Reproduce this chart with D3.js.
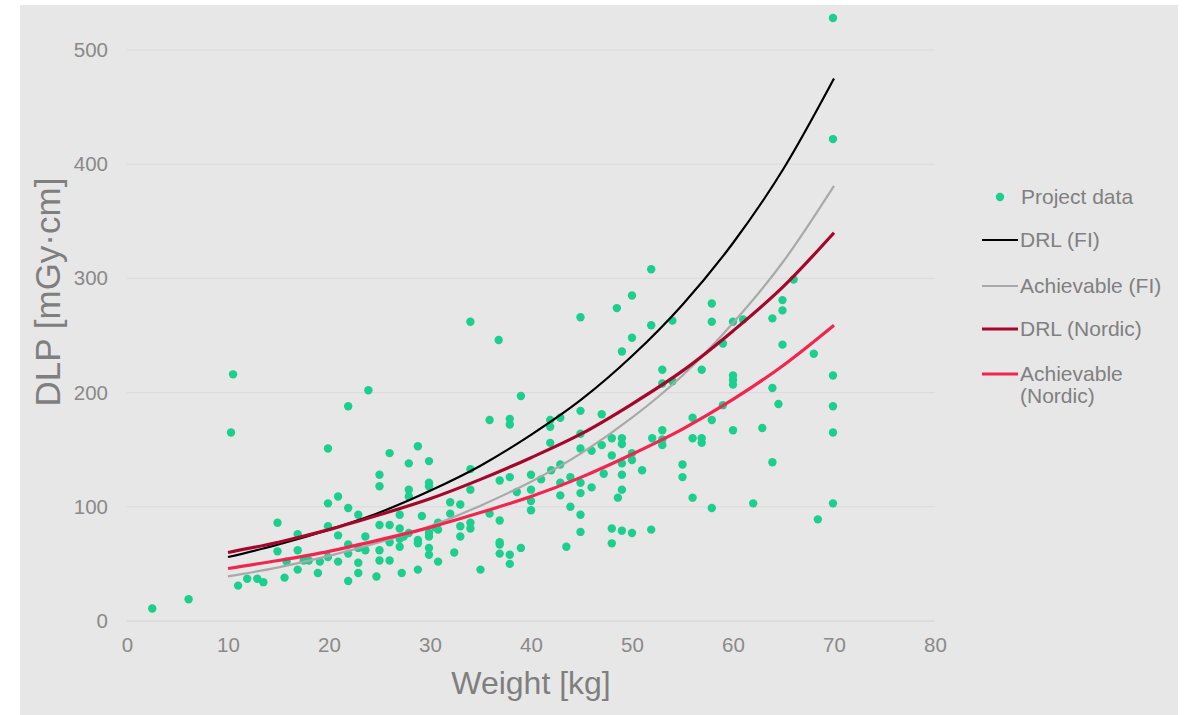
<!DOCTYPE html>
<html lang="en">
<head>
  <meta charset="UTF-8">
  <title>DLP vs weight</title>
  <script src="https://d3js.org/d3.v7.min.js"></script>
  <style>
    html, body { margin: 0; padding: 0; background: #fff; }
    svg { display: block; font-family: "Liberation Sans", Arial, sans-serif; }
  </style>
</head>
<body>
<script>
  // ---- Data ----------------------------------------------------------------

  // Project data: [weight kg, DLP mGy·cm]
  const projectData = [
    [10.5,216],[10.3,165],[19.9,151],[19.9,103],[14.9,86],[16.9,76],[19.9,83],[14.9,61],[16.9,62],
    [15.8,52],[17.5,53],[18,53],[19.1,52],[19.9,56],[16.9,45],[18.9,42],[15.6,38],[11,31],[11.9,37],
    [12.9,37],[13.5,34],[6.1,19],[2.5,11],
    [34,262],[36.8,246],[23.9,202],[21.9,188],[35.9,176],[28.8,153],[26,147],[27.9,138],[29.9,140],
    [25,128],[25,118],[29.9,121],[29.9,118],[27.9,115],[27.9,109],[34,133],[34,115],[36.9,123],
    [20.9,109],[32,104],[33,102],[21.9,99],[22.9,93],[27,93],[29.2,92],[32,94],[35.9,94],[36.9,88],
    [25,84],[26,84],[20.9,75],[23.6,74],[27,81],[27,72],[26,69],[27.9,77],[28.8,71],[28.8,68],
    [29.9,74],[30.8,86],[30.8,80],[29.9,77],[30.5,82],[33,83],[34,86],[34,81],[33,74],[27,65],
    [21.9,67],[21.9,59],[22.9,64],[23.6,62],[25,62],[20.9,52],[25,53],[26,53],[29.9,64],[29.9,58],
    [30.8,52],[32.4,60],[28.8,45],[27.2,42],[22.9,51],[22.9,42],[24.7,39],[21.9,35],[35,45],
    [36.9,69],[36.9,67],[36.9,59],[27.4,74],
    [51.9,308],[50,285],[48.5,274],[44.9,266],[51.9,259],[50,248],[49,236],[53,220],[53,208],
    [39,197],[37.9,177],[37.9,172],[44.9,184],[47,181],[41.9,176],[42.9,178],[41.9,170],[44.9,164],
    [41.9,156],[44.9,151],[46,149],[47,154],[48,160],[49,160],[49,155],[48,145],[50,147],[50,141],
    [49,138],[52,160],[53,167],[53,159],[53,154],[42.9,137],[42,132],[41,124],[40,128],[37.9,126],
    [38.6,113],[40,115],[40,105],[40,97],[42.9,121],[43.9,126],[44.9,121],[44.9,112],[46,117],
    [42.9,110],[43.9,100],[44.9,93],[44.9,78],[47.2,129],[49,128],[49,115],[48.6,108],[51,132],
    [48,81],[48,68],[49,79],[50,77],[51.9,80],[43.5,65],[39,64],[37.9,58],[37.9,50],
    [66,299],[57.9,278],[64.9,281],[64.9,272],[63.9,265],[54,263],[57.9,262],[60,262],[61,264],
    [59,243],[64.9,242],[68,234],[54,210],[56.9,220],[60,215],[60,211],[60,207],[63.9,204],
    [64.5,190],[69.9,215],[69.9,188],[69.9,165],[59,189],[56,178],[57.9,176],[60,167],[62.9,169],
    [56,160],[56.9,160],[56.9,156],[63.9,139],[55,137],[55,126],[56,108],[57.9,99],[62,103],
    [69.9,103],[68.4,89],[69.9,528],[69.9,422]
  ];

  // Reference curves, read every 5 kg
  const curveWeights = [10, 15, 20, 25, 30, 35, 40, 45, 50, 55, 60, 65, 70];
  const drlFI        = [56, 67, 80, 95, 114, 136, 163, 194, 232, 277, 331, 396, 475];
  const achFI        = [39, 47, 57, 69, 83, 101, 122, 147, 178, 215, 261, 315, 381];
  const drlNordic    = [60, 69, 80, 93, 107, 124, 143, 164, 190, 219, 254, 293, 340];
  const achNordic    = [46, 53, 61, 71, 82, 95, 109, 126, 146, 168, 194, 224, 259];

  const xTicks = [0, 10, 20, 30, 40, 50, 60, 70, 80];
  const yTicks = [0, 100, 200, 300, 400, 500];

  const series = [
    { name: "DRL (FI)", values: drlFI, color: "#000000", width: 2.2 },
    { name: "Achievable (FI)", values: achFI, color: "#a9a9a9", width: 2.2 },
    { name: "DRL (Nordic)", values: drlNordic, color: "#a3072b", width: 3.2 },
    { name: "Achievable (Nordic)", values: achNordic, color: "#f0264f", width: 3.2 }
  ];

  // ---- Render --------------------------------------------------------------

  const W = 1186, H = 715;
  const svg = d3.select("body").append("svg").attr("width", W).attr("height", H);

  svg.append("rect").attr("x", 20).attr("y", 5).attr("width", 1158).attr("height", 710)
    .attr("fill", "#e7e7e7");

  const x = d3.scaleLinear().domain([0, 80]).range([127, 935]);
  const y = d3.scaleLinear().domain([0, 500]).range([621, 50]);

  // grid
  svg.append("g").selectAll("line").data(yTicks).join("line")
    .attr("x1", x(0)).attr("x2", x(80))
    .attr("y1", d => y(d)).attr("y2", d => y(d))
    .attr("stroke", d => d === 0 ? "#d2d2d2" : "#dadada").attr("stroke-width", 1);

  // axes
  const xAxis = svg.append("g").attr("transform", `translate(0,${y(0)})`)
    .call(d3.axisBottom(x).tickValues(xTicks).tickSize(0).tickPadding(16));
  const yAxis = svg.append("g").attr("transform", `translate(${x(0) - 19},0)`)
    .call(d3.axisLeft(y).tickValues(yTicks).tickSize(0).tickPadding(0));
  [xAxis, yAxis].forEach(g => {
    g.select(".domain").remove();
    g.selectAll("text").attr("fill", "#8a8a8a").style("font-size", "20.5px")
      .style("font-family", "'Liberation Sans', Arial, sans-serif");
  });

  // points
  svg.append("g").selectAll("circle").data(projectData).join("circle")
    .attr("cx", d => x(d[0])).attr("cy", d => y(d[1])).attr("r", 4.2)
    .attr("fill", "#1ccf8f");

  // curves
  const line = d3.line().curve(d3.curveMonotoneX);
  svg.append("g").selectAll("path").data(series).join("path")
    .attr("d", s => line(curveWeights.map((w, i) => [x(w), y(s.values[i])])))
    .attr("fill", "none").attr("stroke", s => s.color)
    .attr("stroke-width", s => s.width).attr("stroke-linejoin", "round");

  // axis titles
  svg.append("text").attr("x", 531).attr("y", 694).attr("text-anchor", "middle")
    .attr("fill", "#7f7f7f").style("font-size", "32px").text("Weight [kg]");
  svg.append("text").attr("transform", "translate(60,292) rotate(-90)").attr("text-anchor", "middle")
    .attr("fill", "#7f7f7f").style("font-size", "35px").text("DLP [mGy·cm]");

  // legend
  const legend = svg.append("g");
  legend.append("circle").attr("cx", 1000).attr("cy", 197).attr("r", 4.2).attr("fill", "#1ccf8f");
  legend.append("text").attr("x", 1021).attr("y", 197).attr("dy", "0.35em")
    .attr("fill", "#808080").style("font-size", "21px").text("Project data");
  const rowsY = [240, 286, 329, 374];
  series.forEach((s, i) => {
    legend.append("line").attr("x1", 982).attr("x2", 1018)
      .attr("y1", rowsY[i]).attr("y2", rowsY[i])
      .attr("stroke", s.color).attr("stroke-width", s.width);
  });
  ["DRL (FI)", "Achievable (FI)", "DRL (Nordic)"].forEach((t, i) => {
    legend.append("text").attr("x", 1020).attr("y", rowsY[i]).attr("dy", "0.35em")
      .attr("fill", "#808080").style("font-size", "21px").text(t);
  });
  const last = legend.append("text").attr("x", 1020).attr("y", rowsY[3]).attr("dy", "0.35em")
    .attr("fill", "#808080").style("font-size", "21px");
  last.append("tspan").attr("x", 1020).text("Achievable");
  last.append("tspan").attr("x", 1020).attr("dy", "1.05em").text("(Nordic)");
</script>
</body>
</html>
